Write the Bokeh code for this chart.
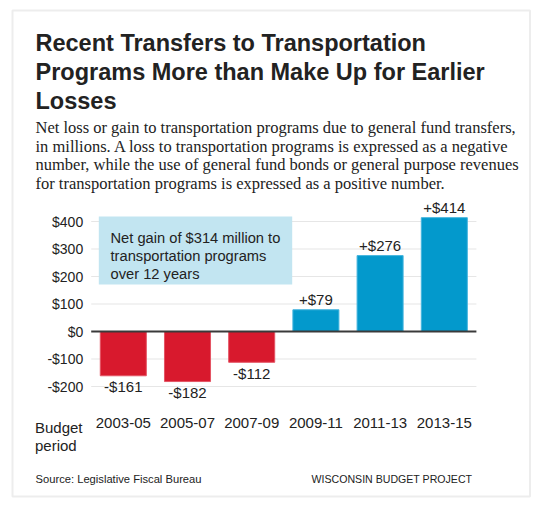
from bokeh.plotting import figure
from bokeh.models import (ColumnDataSource, Range1d, FixedTicker, Label, LabelSet, BoxAnnotation)
from bokeh.core.properties import value
from bokeh.embed import file_html
from bokeh.resources import INLINE

# ---------------- data ----------------
periods = ["2003-05", "2005-07", "2007-09", "2009-11", "2011-13", "2013-15"]
net_change = [-161, -182, -112, 79, 276, 414]
y_ticks = [-200, -100, 0, 100, 200, 300, 400]
y_tick_labels = ["-$200", "-$100", "$0", "$100", "$200", "$300", "$400"]

title_lines = ["Recent Transfers to Transportation",
               "Programs More than Make Up for Earlier",
               "Losses"]
subtitle_lines = ["Net loss or gain to transportation programs due to general fund transfers,",
                  "in millions. A loss to transportation programs is expressed as a negative",
                  "number, while the use of general fund bonds or general purpose revenues",
                  "for transportation programs is expressed as a positive number."]
note_lines = ["Net gain of $314 million to", "transportation programs", "over 12 years"]
axis_title_lines = ["Budget", "period"]
source_text = "Source: Legislative Fiscal Bureau"
credit_text = "WISCONSIN BUDGET PROJECT"

# ---------------- layout / style (canvas px) ----------------
W, H = 535, 503
plot_left = 90.7          # left edge of the bar area
slot_px = 64.2            # px per category slot
zero_y = 331.0            # zero line
px_per_unit = 0.275       # px per $1M

n = len(periods)
first_center = plot_left + slot_px / 2
x_start = -first_center / slot_px
x_end = (W - first_center) / slot_px
y_end = zero_y / px_per_unit
y_start = -(H - zero_y) / px_per_unit

POS_COLOR, POS_EDGE = "#0399cc", "#45b5de"
NEG_COLOR, NEG_EDGE = "#d8192d", "#e45464"
TEXT = "#222222"
SANS = "Liberation Sans"
SERIF = "Liberation Serif"

p = figure(x_range=Range1d(x_start, x_end), y_range=Range1d(y_start, y_end),
           width=W, height=H, output_backend="svg", toolbar_location=None,
           min_border_left=0, min_border_right=0, min_border_top=0, min_border_bottom=0)
p.outline_line_color = None
p.background_fill_color = "white"
p.border_fill_color = "white"
p.xgrid.grid_line_color = None
p.ygrid.grid_line_color = None

xs = list(range(n))
lo, hi = -0.5, n - 0.5

# gridlines (behind bars)
grid_y = [t for t in y_ticks if t != 0]
p.segment(x0=[lo] * len(grid_y), x1=[hi] * len(grid_y), y0=grid_y, y1=grid_y,
          line_color="#e6e6e6", line_width=1.2)

# bars
labels = [("+$%d" % v) if v > 0 else ("-$%d" % abs(v)) for v in net_change]
colors = [POS_COLOR if v > 0 else NEG_COLOR for v in net_change]
edges = [POS_EDGE if v > 0 else NEG_EDGE for v in net_change]
src = ColumnDataSource(dict(x=xs, value=net_change, label=labels, color=colors, edge=edges))
p.vbar(x="x", top="value", bottom=0, width=0.717, source=src,
       fill_color="color", line_color="edge", line_width=1)

# zero line
p.segment(x0=[lo], x1=[hi], y0=[0], y1=[0], line_color="#3a3a3a", line_width=2)

# value labels
pos = [i for i, v in enumerate(net_change) if v > 0]
neg = [i for i, v in enumerate(net_change) if v <= 0]
for idx, off in ((pos, 5), (neg, -16.5)):
    s = ColumnDataSource(dict(x=[xs[i] for i in idx], value=[net_change[i] for i in idx],
                              label=[labels[i] for i in idx]))
    p.add_layout(LabelSet(x="x", y="value", text="label", source=s,
                          text_align="center", text_baseline="alphabetic", y_offset=off,
                          text_font=value(SANS), text_font_size="15px", text_color=TEXT))

def style_axis(ax, size):
    ax.axis_line_color = None
    ax.major_tick_out = 0
    ax.major_tick_in = 0
    ax.minor_tick_out = 0
    ax.minor_tick_in = 0
    ax.major_label_text_font = SANS
    ax.major_label_text_font_size = size
    ax.major_label_text_color = TEXT

# axes (drawn inside the canvas at fixed locations)
p.yaxis.fixed_location = lo
p.yaxis.ticker = FixedTicker(ticks=y_ticks)
p.yaxis.major_label_overrides = {t: l for t, l in zip(y_ticks, y_tick_labels)}
p.yaxis.major_label_standoff = 8
style_axis(p.yaxis[0], "14px")

p.xaxis.fixed_location = 0
p.xaxis.ticker = FixedTicker(ticks=xs)
p.xaxis.major_label_overrides = {i: per for i, per in zip(xs, periods)}
p.xaxis.major_label_standoff = 86
style_axis(p.xaxis[0], "15px")

# outer border
p.add_layout(BoxAnnotation(left=12, right=529.5, top=10, bottom=496,
                           left_units="canvas", right_units="canvas",
                           top_units="canvas", bottom_units="canvas",
                           fill_alpha=0, line_color="#c4c4c4", line_width=2))

def text_line(txt, x, y, size, font=SANS, style="normal", align="left"):
    p.add_layout(Label(x=x, y=y, x_units="canvas", y_units="canvas", text=txt,
                       text_font=font, text_font_size=size, text_font_style=style,
                       text_color=TEXT, text_align=align, text_baseline="alphabetic"))

# title / subtitle
for i, t in enumerate(title_lines):
    text_line(t, 35, 42.7 + 28.8 * i, "23.5px", style="bold")
for i, t in enumerate(subtitle_lines):
    text_line(t, 35, 127 + 18.6 * i, "16.5px", font=SERIF)

# note box
p.add_layout(BoxAnnotation(left=98.3, right=291.7, top=216, bottom=284,
                           left_units="canvas", right_units="canvas",
                           top_units="canvas", bottom_units="canvas",
                           fill_color="#c2e5f1", fill_alpha=1, line_color=None))
for i, t in enumerate(note_lines):
    text_line(t, 110, 237.3 + 18.1 * i, "14.7px")

# axis caption
for i, t in enumerate(axis_title_lines):
    text_line(t, 34.5, 426.5 + 18 * i, "15px")

# footer
text_line(source_text, 35, 478, "11.2px")
text_line(credit_text, 471.7, 478.5, "10.6px", align="right")

open("out.html", "w").write(file_html(p, INLINE))
